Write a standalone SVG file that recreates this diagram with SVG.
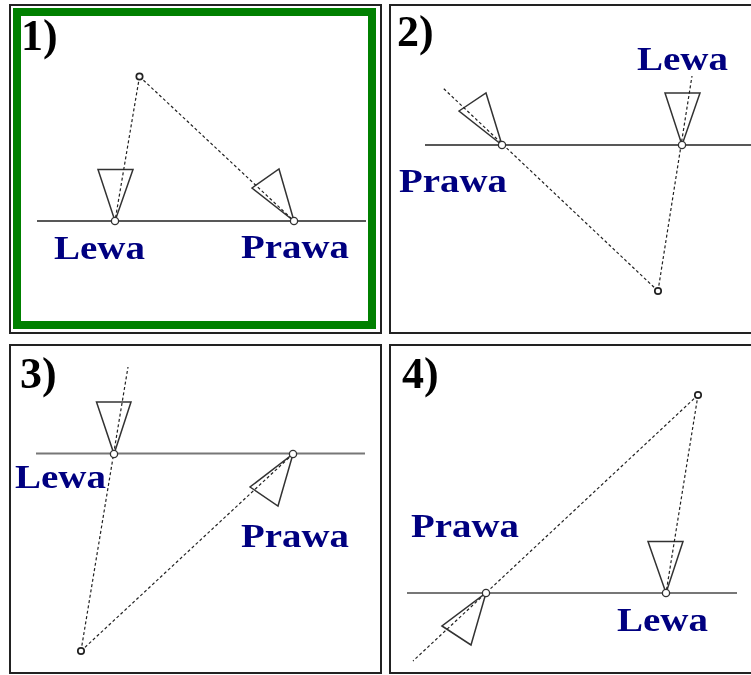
<svg xmlns="http://www.w3.org/2000/svg" width="751" height="675" viewBox="0 0 751 675">
<defs><filter id="soft" x="-2%" y="-2%" width="104%" height="104%"><feGaussianBlur stdDeviation="0.45"/></filter></defs>
<style>
.frame{fill:#fff;stroke:#222;stroke-width:2}
.base{stroke:#222;stroke-width:1.6;fill:none}
.gray{stroke:#777;stroke-width:1.8;fill:none}
.tri{fill:none;stroke:#333;stroke-width:1.5;stroke-linejoin:miter}
.dash{stroke:#222;stroke-width:1.2;stroke-dasharray:3 2.4;fill:none}
.hinge{fill:#fff;stroke:#333;stroke-width:1.3}
.apex{fill:#fff;stroke:#222;stroke-width:1.7}
.num{font:bold 44px "Liberation Serif","Times New Roman",serif;fill:#000}
.lab{font:bold 34px "Liberation Serif","Times New Roman",serif;fill:#000080}
</style>
<rect width="751" height="675" fill="#fff"/>
<g filter="url(#soft)">
<g id="panel-1">
<rect class="frame" x="10" y="5" width="371" height="328"/>
<rect x="17" y="12" width="355" height="313" fill="#fff" stroke="#008000" stroke-width="8"/>
<line class="base" x1="37" y1="221" x2="366" y2="221"/>
<path class="tri" d="M98 169.5H133L115 221Z"/>
<path class="tri" d="M252 188L279 169L294 221Z"/>
<text class="num" x="21" y="50">1)</text>
<text class="lab" x="54" y="259" textLength="91" lengthAdjust="spacingAndGlyphs">Lewa</text>
<text class="lab" x="241" y="258" textLength="108" lengthAdjust="spacingAndGlyphs">Prawa</text>
</g>
<g id="panel-2">
<path class="frame" d="M752 5H390V333H752"/>
<line class="base" x1="425" y1="145" x2="751" y2="145"/>
<path class="tri" d="M459 111L486 93L502 145Z"/>
<path class="tri" d="M665 93H700L682 145Z"/>
<text class="num" x="397" y="46">2)</text>
<text class="lab" x="637" y="70" textLength="91" lengthAdjust="spacingAndGlyphs">Lewa</text>
<text class="lab" x="399" y="192" textLength="108" lengthAdjust="spacingAndGlyphs">Prawa</text>
</g>
<g id="panel-3">
<rect class="frame" x="10" y="345" width="371" height="328"/>
<line class="gray" x1="36" y1="453.5" x2="365" y2="453.5"/>
<path class="tri" d="M96.500 402H131L114 454Z"/>
<path class="tri" d="M250 487L278 506L293 454Z"/>
<text class="num" x="20" y="388">3)</text>
<text class="lab" x="15" y="488" textLength="91" lengthAdjust="spacingAndGlyphs">Lewa</text>
<text class="lab" x="241" y="547" textLength="108" lengthAdjust="spacingAndGlyphs">Prawa</text>
</g>
<g id="panel-4">
<path class="frame" d="M752 345H390V673H752"/>
<line class="gray" x1="407" y1="593" x2="737" y2="593"/>
<path class="tri" d="M648 541.500H683L666 593Z"/>
<path class="tri" d="M442 626L471 645L486 593Z"/>
<text class="num" x="402" y="388">4)</text>
<text class="lab" x="411" y="537" textLength="108" lengthAdjust="spacingAndGlyphs">Prawa</text>
<text class="lab" x="617" y="631" textLength="91" lengthAdjust="spacingAndGlyphs">Lewa</text>
</g>
<g id="connectors">
<path class="dash" d="M139.500 76.500L115 221M139.500 76.500L294 221"/>
<path class="dash" d="M658 291L692 76M658 291L443 88"/>
<path class="dash" d="M81 651L128 367M81 651L293 454"/>
<path class="dash" d="M698 395L666 593M698 395L413 661"/>
</g>
<g id="points">
<circle class="hinge" cx="115" cy="221" r="3.600"/><circle class="hinge" cx="294" cy="221" r="3.600"/><circle class="apex" cx="139.500" cy="76.500" r="3.200"/>
<circle class="hinge" cx="502" cy="145" r="3.600"/><circle class="hinge" cx="682" cy="145" r="3.600"/><circle class="apex" cx="658" cy="291" r="3.200"/>
<circle class="hinge" cx="114" cy="454" r="3.600"/><circle class="hinge" cx="293" cy="454" r="3.600"/><circle class="apex" cx="81" cy="651" r="3.200"/>
<circle class="hinge" cx="486" cy="593" r="3.600"/><circle class="hinge" cx="666" cy="593" r="3.600"/><circle class="apex" cx="698" cy="395" r="3.200"/>
</g>
</g>
</svg>
